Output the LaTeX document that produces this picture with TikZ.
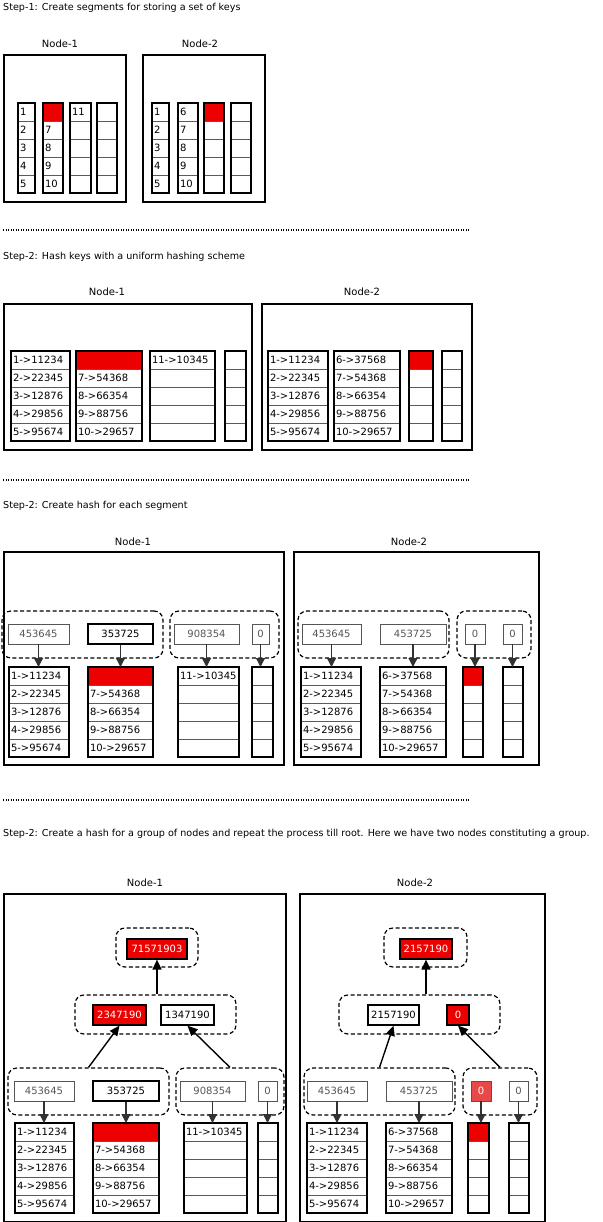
\documentclass[tikz,border=0pt]{standalone}
\usepackage{fontspec}
\setmainfont{DejaVu Sans}
\usepackage{xcolor}
\usepackage{tikz}
\usetikzlibrary{arrows.meta}
\definecolor{segred}{RGB}{236, 0, 0}
\definecolor{palered}{RGB}{232, 72, 72}
\definecolor{hashgray}{RGB}{85, 85, 85}
\definecolor{cellgray}{RGB}{90, 90, 90}
\definecolor{darkline}{RGB}{50, 50, 50}

% one segment: name, x, y, width, five texts, red row (-1 = none)
\newcommand{\segcol}[6]{%
  \pgfmathsetmacro{\segw}{#4-4}
  \foreach \txt [count=\i from 0] in {#5}{
    \ifnum\i=#6\relax\def\segfill{segred}\else\def\segfill{white}\fi
    \node[cell, fill=\segfill, text width=\segw pt] (#1-\i) at (#2,#3+18*\i) {\mbox{\txt}};
  }
  \draw[colframe] (#1-0.north west) rectangle (#1-4.south east);
}

\begin{document}
\begin{tikzpicture}[x=1pt, y=-1pt,
    font=\fontsize{10}{12}\selectfont,
    title/.style={anchor=west, inner sep=0pt, font=\fontsize{9.6}{12}\selectfont},
    lbl/.style={inner sep=0pt},
    nodebox/.style={draw, line width=1.6pt, anchor=north west, inner sep=0pt, minimum height=#1},
    cell/.style={draw=cellgray, line width=0.6pt, anchor=north west, minimum height=18pt, inner xsep=2pt, inner ysep=0pt, outer sep=0pt, align=left},
    colframe/.style={line width=1.5pt},
    hashbox/.style={draw=hashgray, line width=0.9pt, text=hashgray, minimum height=20pt, inner sep=0pt},
    hashblack/.style={draw=black, line width=1.4pt, text=black, minimum height=20pt, inner sep=0pt},
    hashred/.style={draw=black, fill=segred, line width=1.2pt, text=white, minimum height=20pt, inner sep=0pt},
    grp/.style={draw, line width=1.2pt, dash pattern=on 4pt off 2.5pt, rounded corners=9pt, inner sep=0pt},
    down/.style={draw=darkline, line width=1.3pt, -{Triangle[width=9pt, length=9pt]}},
    up/.style={line width=1.4pt, -{Triangle[width=9pt, length=10pt]}},
    dotline/.style={line width=1.2pt, dash pattern=on 1.2pt off 1.3pt}
]
\useasboundingbox (0,0) rectangle (602,1222);

% step 1
\node[title] (ta) at (3,8) {Step-1: Create segments for storing a set of keys};
\node[lbl] (ta1) at (60,44) {Node-1};
\node[lbl] (ta2) at (200,44) {Node-2};
\node[nodebox=147pt, minimum width=122pt] (a1) at (3,54) {};
\node[nodebox=147pt, minimum width=122pt] (a2) at (142,54) {};
\segcol{a1c1}{18}{103}{17}{1,2,3,4,5}{-1}
\segcol{a1c2}{43}{103}{20}{{},7,8,9,10}{0}
\segcol{a1c3}{70}{103}{21}{11,{},{},{},{}}{-1}
\segcol{a1c4}{97}{103}{20}{{},{},{},{},{}}{-1}
\segcol{a2c1}{152}{103}{17}{1,2,3,4,5}{-1}
\segcol{a2c2}{178}{103}{20}{6,7,8,9,10}{-1}
\segcol{a2c3}{204}{103}{20}{{},{},{},{},{}}{0}
\segcol{a2c4}{231}{103}{20}{{},{},{},{},{}}{-1}
\draw[dotline] (3,230) -- (470,230);

% step 2, hashed keys
\node[title] (tb) at (3,257) {Step-2: Hash keys with a uniform hashing scheme};
\node[lbl] (tb1) at (107,292) {Node-1};
\node[lbl] (tb2) at (362,292) {Node-2};
\node[nodebox=146pt, minimum width=248pt] (b1) at (3,303) {};
\node[nodebox=146pt, minimum width=210pt] (b2) at (261,303) {};
\segcol{b1c1}{11}{351}{59}{1->11234,2->22345,3->12876,4->29856,5->95674}{-1}
\segcol{b1c2}{76}{351}{66}{{},7->54368,8->66354,9->88756,10->29657}{0}
\segcol{b1c3}{150}{351}{65}{11->10345,{},{},{},{}}{-1}
\segcol{b1c4}{225}{351}{21}{{},{},{},{},{}}{-1}
\segcol{b2c1}{268}{351}{60}{1->11234,2->22345,3->12876,4->29856,5->95674}{-1}
\segcol{b2c2}{334}{351}{66}{6->37568,7->54368,8->66354,9->88756,10->29657}{-1}
\segcol{b2c3}{409}{351}{24}{{},{},{},{},{}}{0}
\segcol{b2c4}{442}{351}{20}{{},{},{},{},{}}{-1}
\draw[dotline] (3,480) -- (470,480);

% step 2, segment hashes
\node[title] (tc) at (3,506) {Step-2: Create hash for each segment};
\node[lbl] (tc1) at (133,542) {Node-1};
\node[lbl] (tc2) at (409,542) {Node-2};
\node[nodebox=213pt, minimum width=280pt] (c1) at (3,551) {};
\node[nodebox=213pt, minimum width=245pt] (c2) at (293,551) {};
\node[grp, minimum width=161pt, minimum height=47pt] (c1g1) at (82.5,634.5) {};
\node[grp, minimum width=109pt, minimum height=47pt] (c1g2) at (224.5,634.5) {};
\node[grp, minimum width=151pt, minimum height=47pt] (c2g1) at (373.5,634.5) {};
\node[grp, minimum width=74pt, minimum height=47pt] (c2g2) at (494,634.5) {};
\node[hashbox, minimum width=61pt] (c1h1) at (38.5,634) {453645};
\node[hashblack, minimum width=65pt] (c1h2) at (120.5,634) {353725};
\node[hashbox, minimum width=65pt] (c1h3) at (206.5,634) {908354};
\node[hashbox, minimum width=17pt] (c1h4) at (260.5,634) {0};
\node[hashbox, minimum width=59pt] (c2h1) at (331.5,634) {453645};
\node[hashbox, minimum width=66pt] (c2h2) at (413,634) {453725};
\node[hashbox, minimum width=20pt] (c2h3) at (475,634) {0};
\node[hashbox, minimum width=19pt] (c2h4) at (512.5,634) {0};
\segcol{c1c1}{9}{667}{60}{1->11234,2->22345,3->12876,4->29856,5->95674}{-1}
\segcol{c1c2}{88}{667}{65}{{},7->54368,8->66354,9->88756,10->29657}{0}
\segcol{c1c3}{178}{667}{61}{11->10345,{},{},{},{}}{-1}
\segcol{c1c4}{252}{667}{21}{{},{},{},{},{}}{-1}
\segcol{c2c1}{301}{667}{60}{1->11234,2->22345,3->12876,4->29856,5->95674}{-1}
\segcol{c2c2}{380}{667}{66}{6->37568,7->54368,8->66354,9->88756,10->29657}{-1}
\segcol{c2c3}{463}{667}{20}{{},{},{},{},{}}{0}
\segcol{c2c4}{503}{667}{20}{{},{},{},{},{}}{-1}
\draw[down] (c1h1.south) -- (c1h1.south |- c1c1-0.north);
\draw[down] (c1h2.south) -- (c1h2.south |- c1c2-0.north);
\draw[down] (c1h3.south) -- (c1h3.south |- c1c3-0.north);
\draw[down] (c1h4.south) -- (c1h4.south |- c1c4-0.north);
\draw[down] (c2h1.south) -- (c2h1.south |- c2c1-0.north);
\draw[down] (c2h2.south) -- (c2h2.south |- c2c2-0.north);
\draw[down] (c2h3.south) -- (c2h3.south |- c2c3-0.north);
\draw[down] (c2h4.south) -- (c2h4.south |- c2c4-0.north);
\draw[dotline] (3,800) -- (470,800);

% step 2, group hashes up to the root
\node[title] (td) at (3,834) {Step-2: Create a hash for a group of nodes and repeat the process till root. Here we have two nodes constituting a group.};
\node[lbl] (td1) at (145,883) {Node-1};
\node[lbl] (td2) at (415,883) {Node-2};
\node[nodebox=328pt, minimum width=282pt] (d1) at (3,893) {};
\node[nodebox=328pt, minimum width=245pt] (d2) at (299,893) {};

\node[grp, minimum width=82pt, minimum height=39pt] (d1gt) at (157,947.5) {};
\node[hashred, minimum width=60pt] (d1r) at (157,949) {71571903};
\node[grp, minimum width=161pt, minimum height=39pt] (d1gm) at (155.5,1014.5) {};
\node[hashred, minimum width=53pt] (d1m1) at (119.5,1015) {2347190};
\node[hashblack, minimum width=53pt] (d1m2) at (187.5,1015) {1347190};
\node[grp, minimum width=161pt, minimum height=47pt] (d1g1) at (88.5,1091.5) {};
\node[grp, minimum width=108pt, minimum height=47pt] (d1g2) at (230,1091.5) {};
\node[hashbox, minimum width=60pt] (d1h1) at (44,1091) {453645};
\node[hashblack, minimum width=66pt] (d1h2) at (126,1091) {353725};
\node[hashbox, minimum width=65pt] (d1h3) at (212.5,1091) {908354};
\node[hashbox, minimum width=19pt] (d1h4) at (267.5,1091) {0};
\segcol{d1c1}{15}{1123}{59}{1->11234,2->22345,3->12876,4->29856,5->95674}{-1}
\segcol{d1c2}{93}{1123}{66}{{},7->54368,8->66354,9->88756,10->29657}{0}
\segcol{d1c3}{184}{1123}{63}{11->10345,{},{},{},{}}{-1}
\segcol{d1c4}{258}{1123}{20}{{},{},{},{},{}}{-1}

\node[grp, minimum width=83pt, minimum height=39pt] (d2gt) at (425.5,947.5) {};
\node[hashred, minimum width=52pt] (d2r) at (426,949) {2157190};
\node[grp, minimum width=161pt, minimum height=39pt] (d2gm) at (419.5,1014.5) {};
\node[hashblack, minimum width=51pt] (d2m1) at (393.5,1015) {2157190};
\node[hashred, minimum width=22pt] (d2m2) at (458,1015) {0};
\node[grp, minimum width=151pt, minimum height=47pt] (d2g1) at (379.5,1091.5) {};
\node[grp, minimum width=74pt, minimum height=47pt] (d2g2) at (500,1091.5) {};
\node[hashbox, minimum width=60pt] (d2h1) at (337,1091) {453645};
\node[hashbox, minimum width=66pt] (d2h2) at (419,1091) {453725};
\node[hashbox, fill=palered, text=white, minimum width=20pt] (d2h3) at (481,1091) {0};
\node[hashbox, minimum width=19pt] (d2h4) at (518.5,1091) {0};
\segcol{d2c1}{307}{1123}{60}{1->11234,2->22345,3->12876,4->29856,5->95674}{-1}
\segcol{d2c2}{386}{1123}{66}{6->37568,7->54368,8->66354,9->88756,10->29657}{-1}
\segcol{d2c3}{468}{1123}{21}{{},{},{},{},{}}{0}
\segcol{d2c4}{509}{1123}{20}{{},{},{},{},{}}{-1}

\draw[down] (d1h1.south) -- (d1h1.south |- d1c1-0.north);
\draw[down] (d1h2.south) -- (d1h2.south |- d1c2-0.north);
\draw[down] (d1h3.south) -- (d1h3.south |- d1c3-0.north);
\draw[down] (d1h4.south) -- (d1h4.south |- d1c4-0.north);
\draw[down] (d2h1.south) -- (d2h1.south |- d2c1-0.north);
\draw[down] (d2h2.south) -- (d2h2.south |- d2c2-0.north);
\draw[down] (d2h3.south) -- (d2h3.south |- d2c3-0.north);
\draw[down] (d2h4.south) -- (d2h4.south |- d2c4-0.north);
\draw[up] (d1g1.north) -- (d1m1.south);
\draw[up] (d1g2.north) -- (d1m2.south);
\draw[up] (d1gm.north -| d1r.south) -- (d1r.south);
\draw[up] (d2g1.north) -- (d2m1.south);
\draw[up] (d2g2.north) -- (d2m2.south);
\draw[up] (d2gm.north -| d2r.south) -- (d2r.south);
\end{tikzpicture}
\end{document}
